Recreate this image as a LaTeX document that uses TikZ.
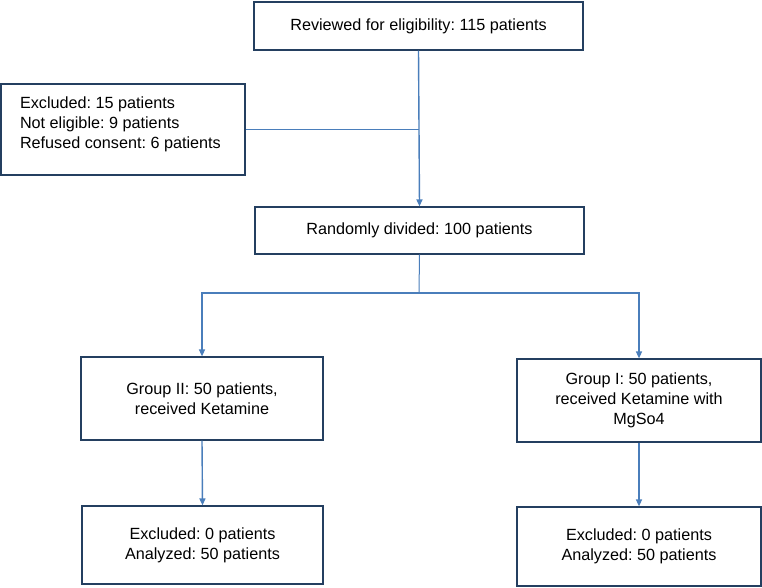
\documentclass[tikz,border=0pt]{standalone}
\usepackage{fontspec}
\setmainfont{Liberation Sans}
\usetikzlibrary{arrows.meta}
\definecolor{boxc}{HTML}{243F60}
\definecolor{linec}{HTML}{4A7EBB}
\frenchspacing
\begin{document}
\begin{tikzpicture}[x=1pt,y=-1pt,
  box/.style={draw=boxc, line width=1.2pt, inner sep=0pt, align=center,
    font=\fontsize{16.2}{20}\selectfont, fill=white},
  conn/.style={draw=linec, line width=1pt},
  arr/.style={draw=linec, line width=1.4pt, -{Triangle[length=7pt,width=6pt]}}]
\useasboundingbox[fill=white] (0,0) rectangle (762,587);

\node[box, minimum width=329pt, minimum height=48pt] (top) at (418.5,26) {Reviewed for eligibility: 115 patients};
\node[box, minimum width=244pt, minimum height=91pt] (excl) at (123,129.5)
  {\parbox[c][91pt][t]{206pt}{\raggedright\rule{0pt}{24pt}Excluded: 15 patients\\Not eligible: 9 patients\\Refused consent: 6 patients}};
\node[box, minimum width=329pt, minimum height=47pt] (rand) at (419.5,230.5) {Randomly divided: 100 patients};
\node[box, minimum width=242pt, minimum height=83pt] (g2) at (202,398.5) {Group II: 50 patients,\\ received Ketamine};
\node[box, minimum width=244pt, minimum height=83pt] (g1) at (639,400.5) {Group I: 50 patients,\\ received Ketamine with\\ MgSo4};
\node[box, minimum width=241pt, minimum height=78pt] (b2) at (202.5,545) {Excluded: 0 patients\\ Analyzed: 50 patients};
\node[box, minimum width=244pt, minimum height=79pt] (b1) at (639,546.5) {Excluded: 0 patients\\ Analyzed: 50 patients};

\coordinate (split) at (419,293);

\draw[arr] (top.south) -- (rand.north);
\draw[conn] (excl.east) -- (excl.east -| top.south);
\draw[conn] (rand.south) -- (split);
\draw[arr] (split) -| (g2.north);
\draw[arr] (split) -| (g1.north);
\draw[arr] (g2.south) -- (b2.north);
\draw[arr] (g1.south) -- (b1.north);
\end{tikzpicture}
\end{document}
